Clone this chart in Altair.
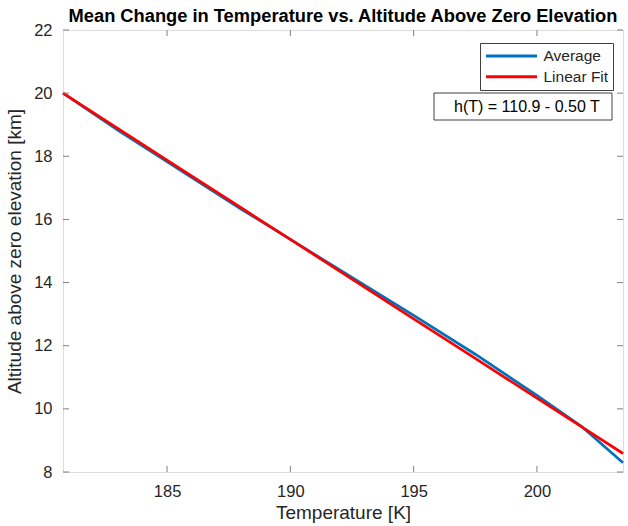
import altair as alt
import pandas as pd

# Mean temperature profile (K) against altitude above zero elevation (km)
temperature = [180.78, 183.0, 185.5, 188.0, 190.0, 192.5, 195.0, 197.5, 200.0, 201.8, 203.49]
altitude = [20.00, 18.83, 17.58, 16.33, 15.37, 14.16, 12.96, 11.73, 10.43, 9.45, 8.29]

# Least-squares line h(T) = a + b*T
fit_intercept = 110.86
fit_slope = -0.5026

x_ticks = [185, 190, 195, 200]
y_ticks = [8, 10, 12, 14, 16, 18, 20, 22]
x_domain = [180.78, 203.49]
y_domain = [8, 22]

W, H = 560, 442
FONT = "Liberation Sans"
AXIS_GRAY = "#808080"
TEXT_DARK = "#262626"

avg_df = pd.DataFrame({"T": temperature, "h": altitude, "series": "Average"})
fit_df = pd.DataFrame({
    "T": temperature,
    "h": [fit_intercept + fit_slope * t for t in temperature],
    "series": "Linear Fit",
})
xt_df = pd.DataFrame({"T": x_ticks})
yt_df = pd.DataFrame({"h": y_ticks})

x_scale = alt.Scale(domain=x_domain, nice=False, zero=False)
y_scale = alt.Scale(domain=y_domain, nice=False, zero=False)

x_axis = alt.Axis(values=x_ticks, title="Temperature [K]", tickSize=0, domain=False,
                  grid=False, labelPadding=11, titlePadding=4, labelFontSize=16.5,
                  titleFontSize=19, labelColor=TEXT_DARK, titleColor=TEXT_DARK,
                  labelFont=FONT, titleFont=FONT, titleFontWeight="normal")
y_axis = alt.Axis(values=y_ticks, title="Altitude above zero elevation [km]", tickSize=0,
                  domain=False, grid=False, labelPadding=11, titlePadding=9,
                  labelFontSize=16.5, titleFontSize=19, labelColor=TEXT_DARK,
                  titleColor=TEXT_DARK, labelFont=FONT, titleFont=FONT,
                  titleFontWeight="normal")

color = alt.Color(
    "series:N",
    scale=alt.Scale(domain=["Average", "Linear Fit"], range=["#0072BD", "#FF0000"]),
    legend=alt.Legend(
        title=None, orient="none", legendX=417, legendY=13, direction="vertical",
        symbolType="stroke", symbolSize=2600, symbolStrokeWidth=3,
        clipHeight=17, rowPadding=3.7,
        labelFontSize=15.5, labelFont=FONT, labelColor=TEXT_DARK,
        strokeColor="#404040", fillColor="white", padding=4.5,
        labelOffset=5, offset=0,
    ),
)

base_x = alt.X("T:Q", scale=x_scale, axis=x_axis)
base_y = alt.Y("h:Q", scale=y_scale, axis=y_axis)

avg_line = alt.Chart(avg_df).mark_line(strokeWidth=2.7).encode(x=base_x, y=base_y, color=color)
fit_line = alt.Chart(fit_df).mark_line(strokeWidth=2.7).encode(x="T:Q", y="h:Q", color=color)

# inward-pointing tick marks on all four sides (box-style axes)
tick_style = dict(color=AXIS_GRAY, strokeWidth=1)
xt_bottom = alt.Chart(xt_df).mark_rule(**tick_style).encode(
    x="T:Q", y=alt.value(H), y2=alt.value(H - 6))
xt_top = alt.Chart(xt_df).mark_rule(**tick_style).encode(
    x="T:Q", y=alt.value(0), y2=alt.value(6))
yt_left = alt.Chart(yt_df).mark_rule(**tick_style).encode(
    y="h:Q", x=alt.value(0), x2=alt.value(6))
yt_right = alt.Chart(yt_df).mark_rule(**tick_style).encode(
    y="h:Q", x=alt.value(W), x2=alt.value(W - 6))

# annotation box with the fitted equation
eq_text = f"h(T) = {fit_intercept:.1f} - {abs(fit_slope):.2f} T"
eq_box = alt.Chart(pd.DataFrame({"label": [eq_text]})).mark_rect(
    fill="white", stroke="#404040", strokeWidth=1).encode(
    x=alt.value(371), x2=alt.value(549), y=alt.value(63), y2=alt.value(90))
eq_label = alt.Chart(pd.DataFrame({"label": [eq_text]})).mark_text(
    align="left", baseline="middle", fontSize=16, font=FONT, color="black").encode(
    text="label:N", x=alt.value(391), y=alt.value(77))

chart = alt.layer(
    avg_line, fit_line, xt_bottom, xt_top, yt_left, yt_right, eq_box, eq_label
).properties(
    width=W, height=H,
    title=alt.TitleParams(
        "Mean Change in Temperature vs. Altitude Above Zero Elevation",
        fontSize=18.3, fontWeight="bold", font=FONT, color="black",
        anchor="middle", offset=-4,
    ),
    autosize=alt.AutoSizeParams(type="none"),
    padding={"left": 63, "top": 30, "right": 5, "bottom": 54},
).configure_view(
    stroke=AXIS_GRAY, strokeWidth=1, fill="white"
).configure(background="white")

chart.save("out.html", embed_options={"renderer": "svg", "actions": False})
